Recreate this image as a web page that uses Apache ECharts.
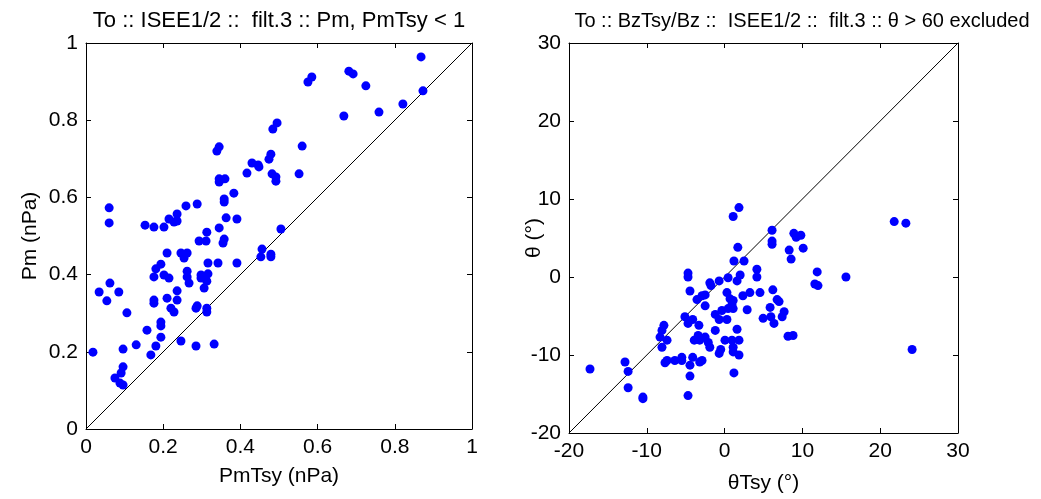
<!DOCTYPE html>
<html>
<head>
<meta charset="utf-8">
<script src="https://cdn.jsdelivr.net/npm/echarts@6/dist/echarts.min.js"></script>
<style>
html,body{margin:0;padding:0;background:#fff;}
#chart{width:1041px;height:499px;}
</style>
</head>
<body>
<div id="chart"></div>
<script>
// ---- Left panel data: PmTsy (x) vs Pm (y), nPa ----
const pmTsy = [0.868,0.873,0.821,0.759,0.725,0.681,0.692,0.585,0.575,0.668,0.495,0.484,0.560,0.339,0.345,0.479,0.474,0.430,0.446,0.448,0.417,0.482,0.492,0.492,0.552,0.345,0.360,0.345,0.383,0.358,0.358,0.288,0.259,0.060,0.060,0.236,0.215,0.228,0.236,0.153,0.176,0.202,0.363,0.391,0.345,0.313,0.505,0.293,0.311,0.358,0.355,0.210,0.246,0.262,0.254,0.456,0.453,0.479,0.479,0.194,0.181,0.176,0.202,0.215,0.262,0.262,0.267,0.298,0.316,0.298,0.313,0.306,0.316,0.342,0.391,0.236,0.236,0.210,0.176,0.176,0.034,0.062,0.085,0.054,0.106,0.220,0.228,0.285,0.288,0.313,0.313,0.194,0.194,0.158,0.194,0.130,0.181,0.168,0.246,0.285,0.332,0.018,0.096,0.096,0.091,0.075,0.088,0.096];
const pm    = [0.964,0.876,0.842,0.821,0.889,0.927,0.920,0.912,0.899,0.811,0.793,0.777,0.733,0.720,0.731,0.712,0.699,0.689,0.684,0.679,0.663,0.661,0.653,0.642,0.661,0.648,0.648,0.640,0.611,0.596,0.588,0.583,0.578,0.573,0.534,0.557,0.544,0.536,0.539,0.528,0.523,0.523,0.547,0.544,0.521,0.510,0.518,0.487,0.487,0.492,0.482,0.456,0.456,0.456,0.443,0.466,0.446,0.453,0.446,0.427,0.415,0.394,0.399,0.391,0.409,0.394,0.378,0.399,0.402,0.391,0.383,0.365,0.430,0.430,0.430,0.358,0.334,0.339,0.334,0.326,0.355,0.378,0.355,0.332,0.301,0.313,0.303,0.313,0.319,0.313,0.303,0.277,0.267,0.256,0.238,0.218,0.215,0.192,0.228,0.215,0.220,0.199,0.207,0.161,0.145,0.132,0.119,0.114];
const leftTicks = [0, 0.2, 0.4, 0.6, 0.8, 1];
const leftDiag = [[0, 0], [1, 1]];

// ---- Right panel data: thetaTsy (x) vs theta (y), degrees ----
const thetaTsy = [-17.3,-12.8,-12.4,-12.4,-10.5,-10.5,-4.7,-4.45,-7.66,-7.4,-6.4,-5.5,-5.5,-4.1,-4.45,-3.2,-2.9,-8.05,-8.3,-8.05,-7.8,-7.4,-5.1,-4.7,-4.1,-3.3,-3.9,-3.4,-3.2,-2.5,-2.1,-1.9,-1.2,-0.7,-0.5,0.05,0.95,1.1,1.85,1.85,1.1,1.6,1.2,-4.7,-4.7,-4.45,-3.55,-2.9,-2.5,-2.5,-1.9,-1.75,-0.7,-1.2,-0.7,-0.35,0.3,0.3,0.7,0.45,0.95,1.1,1.1,0.45,1.6,2.0,2.35,2.9,3.25,1.2,2.5,1.7,1.1,1.85,4.15,4.15,4.55,6.1,6.1,6.1,6.2,6.75,7.0,5.85,4.95,5.95,6.35,7.65,7.4,8.15,8.8,8.9,9.2,9.8,8.3,8.55,10.1,11.9,11.6,12.0,15.6,21.8,23.3,24.1];
const theta    = [-11.8,-10.9,-12.1,-14.2,-15.4,-15.6,-15.2,-12.7,-11.0,-10.7,-10.7,-10.3,-10.7,-10.3,-11.3,-10.9,-10.7,-9.0,-7.7,-6.85,-6.2,-8.1,-5.1,-5.95,-5.45,-6.2,-8.1,-7.5,-8.1,-7.7,-8.4,-9.0,-6.85,-9.8,-9.3,-8.1,-8.1,-9.6,-8.1,-10.0,-9.0,-6.7,-12.3,0.5,0.0,-1.8,-2.9,-2.4,-2.3,-3.7,-0.75,-1.1,-0.5,-4.8,-5.45,-4.3,-5.45,-2.0,-2.8,-4.05,-3.55,-4.05,-3.0,-0.1,-0.5,0.25,-2.4,-4.2,-2.0,2.05,2.05,3.8,7.75,8.9,1.0,0.0,-2.0,6.0,4.6,4.2,-1.65,-2.9,-3.15,-3.9,-5.3,-5.1,-5.95,-4.45,-5.1,-7.6,-7.5,5.6,5.1,5.35,3.45,2.3,3.7,0.65,-0.9,-1.1,0.0,7.1,6.9,-9.3];
const rightTicks = [-20, -10, 0, 10, 20, 30];
const rightDiag = [[-20, -20], [30, 30]];

const FONT = 'Liberation Sans';
const FS = 21;
const BLUE = '#0000ff';

function zip(a, b) { return a.map((v, i) => [v, b[i]]); }

function mainAxis(ticks, extra) {
  return Object.assign({
    type: 'value',
    min: ticks[0], max: ticks[ticks.length - 1],
    interval: ticks[1] - ticks[0],
    nameMoveOverlap: false,
    axisLine: { show: true, onZero: false, lineStyle: { color: '#000', width: 1 } },
    axisTick: { show: true, inside: true, length: 5, lineStyle: { color: '#000' } },
    axisLabel: { color: '#000', fontFamily: FONT, fontSize: FS, margin: 8 },
    splitLine: { show: false },
    nameTextStyle: { color: '#000', fontFamily: FONT, fontSize: FS }
  }, extra);
}
function mirrorAxis(ticks, extra) {
  return Object.assign(mainAxis(ticks, {}), { axisLabel: { show: false } }, extra);
}

const chart = echarts.init(document.getElementById('chart'), null, { renderer: 'canvas' });
chart.setOption({
  animation: false,
  backgroundColor: '#fff',
  title: [
    { text: 'To :: ISEE1/2 ::  filt.3 :: Pm, PmTsy < 1', left: 274, top: 5, textAlign: 'center',
      textStyle: { color: '#000', fontFamily: FONT, fontSize: 22, fontWeight: 'normal' } },
    { text: 'To :: BzTsy/Bz ::  ISEE1/2 ::  filt.3 :: θ > 60 excluded', left: 797, top: 6, textAlign: 'center',
      textStyle: { color: '#000', fontFamily: FONT, fontSize: 20, fontWeight: 'normal' } }
  ],
  grid: [
    { left: 86, top: 43, width: 386, height: 386 },
    { left: 569, top: 43, width: 389, height: 393 }
  ],
  xAxis: [
    mainAxis(leftTicks, { gridIndex: 0, position: 'bottom', name: 'PmTsy (nPa)', nameLocation: 'middle', nameGap: 37 }),
    mirrorAxis(leftTicks, { gridIndex: 0, position: 'top' }),
    mainAxis(rightTicks, { gridIndex: 1, position: 'bottom', name: 'θTsy (°)', nameLocation: 'middle', nameGap: 40 }),
    mirrorAxis(rightTicks, { gridIndex: 1, position: 'top' })
  ],
  yAxis: [
    mainAxis(leftTicks, { gridIndex: 0, position: 'left', name: 'Pm (nPa)', nameLocation: 'middle', nameGap: 45 }),
    mirrorAxis(leftTicks, { gridIndex: 0, position: 'right' }),
    mainAxis(rightTicks, { gridIndex: 1, position: 'left', name: 'θ (°)', nameLocation: 'middle', nameGap: 24 }),
    mirrorAxis(rightTicks, { gridIndex: 1, position: 'right' })
  ],
  series: [
    { type: 'line', xAxisIndex: 0, yAxisIndex: 0, data: leftDiag, symbol: 'none', silent: true,
      lineStyle: { color: '#000', width: 1 }, z: 1 },
    { type: 'scatter', xAxisIndex: 0, yAxisIndex: 0, data: zip(pmTsy, pm), symbolSize: 9,
      itemStyle: { color: BLUE, opacity: 1 }, z: 2 },
    { type: 'line', xAxisIndex: 2, yAxisIndex: 2, data: rightDiag, symbol: 'none', silent: true,
      lineStyle: { color: '#000', width: 1 }, z: 1 },
    { type: 'scatter', xAxisIndex: 2, yAxisIndex: 2, data: zip(thetaTsy, theta), symbolSize: 9,
      itemStyle: { color: BLUE, opacity: 1 }, z: 2 }
  ]
});
</script>
</body>
</html>
